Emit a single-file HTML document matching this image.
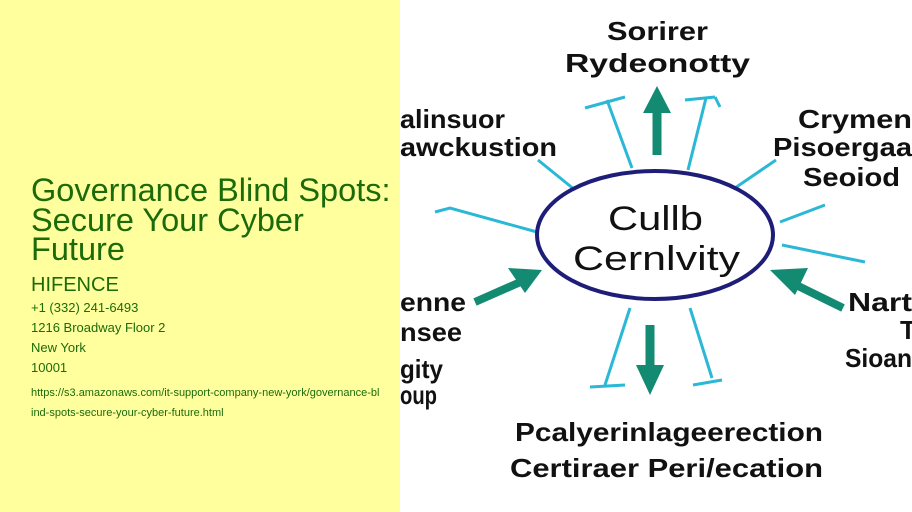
<!DOCTYPE html>
<html><head><meta charset="utf-8"><style>
body{margin:0;width:912px;height:512px;overflow:hidden;background:#fff;font-family:"Liberation Sans",sans-serif}
#l{position:absolute;left:0;top:0;width:400px;height:512px;background:#ffff9e;color:#1c6b0a}
#l div{position:absolute;left:31px;white-space:nowrap}
</style></head><body>
<div id="l">
<div style="top:176px;font-size:32.5px;line-height:29.5px">Governance Blind Spots:<br>Secure Your Cyber<br>Future</div>
<div style="top:274px;font-size:20px">HIFENCE</div>
<div style="top:300px;font-size:13px">+1 (332) 241-6493</div>
<div style="top:320px;font-size:13px">1216 Broadway Floor 2</div>
<div style="top:340px;font-size:13px">New York</div>
<div style="top:360px;font-size:13px">10001</div>
<div style="top:383px;font-size:11px;line-height:20px">https://s3.amazonaws.com/it-support-company-new-york/governance-bl<br>ind-spots-secure-your-cyber-future.html</div>
</div>
<svg style="position:absolute;left:400px;top:0" width="512" height="512" viewBox="400 0 512 512">
<g stroke="#2bb8d6" stroke-width="3" fill="none">
<path d="M585 108 L625 97 M607 100 L632 168"/>
<path d="M685 100 L715 97 M715 97 L720 107 M706 98 L688 170"/>
<path d="M538 160 L575 190"/>
<path d="M776 160 L735 188"/>
<path d="M435 212 L450 208 L537 232"/>
<path d="M780 222 L825 205"/>
<path d="M782 245 L865 262"/>
<path d="M630 308 L605 385 M590 387 L625 385"/>
<path d="M690 308 L712 378 M693 385 L722 380"/>
</g>
<ellipse cx="655" cy="235" rx="118" ry="64" fill="none" stroke="#1e1e78" stroke-width="4"/>
<g fill="#138a72" stroke="#138a72">
<path d="M657 155 V110" stroke-width="9"/><polygon points="643,113 671,113 657,86" stroke="none"/>
<path d="M650 325 V370" stroke-width="9"/><polygon points="636,365 664,365 650,395" stroke="none"/>
<path d="M475 302 L525 280" stroke-width="8"/><polygon points="508,268 542,270 525,293" stroke="none"/>
<path d="M843 308 L790 282" stroke-width="8"/><polygon points="808,268 770,270 795,295" stroke="none"/>
</g>
<g font-family="Liberation Sans,sans-serif" font-weight="bold" fill="#111" font-size="26">
<text x="607" y="40" textLength="101" lengthAdjust="spacingAndGlyphs">Sorirer</text>
<text x="565" y="72" textLength="185" lengthAdjust="spacingAndGlyphs">Rydeonotty</text>
<text x="400" y="128" textLength="105" lengthAdjust="spacingAndGlyphs">alinsuor</text>
<text x="400" y="156" textLength="157" lengthAdjust="spacingAndGlyphs">awckustion</text>
<text x="798" y="128" textLength="114" lengthAdjust="spacingAndGlyphs">Crymen</text>
<text x="773" y="156" textLength="139" lengthAdjust="spacingAndGlyphs">Pisoergaa</text>
<text x="803" y="186" textLength="97" lengthAdjust="spacingAndGlyphs">Seoiod</text>
<text x="400" y="311" textLength="66" lengthAdjust="spacingAndGlyphs">enne</text>
<text x="400" y="341" textLength="62" lengthAdjust="spacingAndGlyphs">nsee</text>
<text x="400" y="378" textLength="43" lengthAdjust="spacingAndGlyphs">gity</text>
<text x="400" y="404" textLength="37" lengthAdjust="spacingAndGlyphs">oup</text>
<text x="848" y="311" textLength="64" lengthAdjust="spacingAndGlyphs">Nart</text>
<text x="900" y="339">T</text>
<text x="845" y="367" textLength="67" lengthAdjust="spacingAndGlyphs">Sioan</text>
<text x="515" y="441" textLength="308" lengthAdjust="spacingAndGlyphs">Pcalyerinlageerection</text>
<text x="510" y="477" textLength="313" lengthAdjust="spacingAndGlyphs">Certiraer Peri/ecation</text>
<text x="608" y="230" font-size="34" font-weight="normal" textLength="95" lengthAdjust="spacingAndGlyphs">Cullb</text>
<text x="573" y="270" font-size="34" font-weight="normal" textLength="167" lengthAdjust="spacingAndGlyphs">Cernlvity</text>
</g>
</svg>
</body></html>
